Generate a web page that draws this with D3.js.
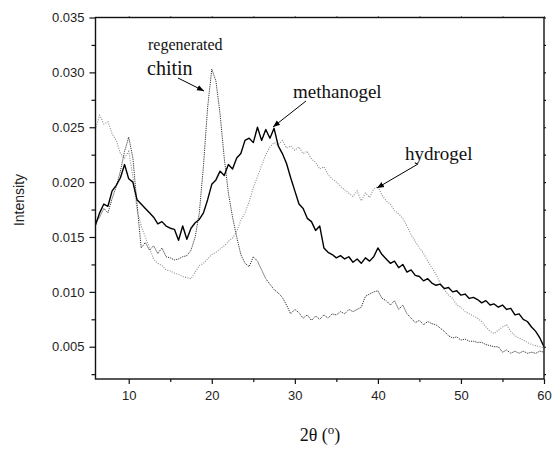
<!DOCTYPE html>
<html>
<head>
<meta charset="utf-8">
<script src="https://cdn.jsdelivr.net/npm/d3@7"></script>
<style>
  body { margin: 0; background: #fff; }
  .tick text { font-family: "Liberation Sans", Arial, sans-serif; font-size: 13px; fill: #222; }
  .ann { font-family: "Liberation Serif", "Times New Roman", serif; fill: #111; }
</style>
</head>
<body>
<div id="chart"></div>
<script>
// diffraction angle, degrees
const twoTheta = [
  6.0, 6.5, 7.0, 7.5, 8.0, 8.5, 9.0, 9.5, 10.0, 10.5, 11.0, 11.5, 12.0, 12.5, 13.0, 13.5, 14.0, 14.5,
  15.0, 15.5, 16.0, 16.5, 17.0, 17.5, 18.0, 18.5, 19.0, 19.5, 20.0, 20.5, 21.0, 21.5, 22.0, 22.5, 23.0, 23.5,
  24.0, 24.5, 25.0, 25.5, 26.0, 26.5, 27.0, 27.5, 28.0, 28.5, 29.0, 29.5, 30.0, 30.5, 31.0, 31.5, 32.0, 32.5,
  33.0, 33.5, 34.0, 34.5, 35.0, 35.5, 36.0, 36.5, 37.0, 37.5, 38.0, 38.5, 39.0, 39.5, 40.0, 40.5, 41.0, 41.5,
  42.0, 42.5, 43.0, 43.5, 44.0, 44.5, 45.0, 45.5, 46.0, 46.5, 47.0, 47.5, 48.0, 48.5, 49.0, 49.5, 50.0, 50.5,
  51.0, 51.5, 52.0, 52.5, 53.0, 53.5, 54.0, 54.5, 55.0, 55.5, 56.0, 56.5, 57.0, 57.5, 58.0, 58.5, 59.0, 59.5, 60.0
];

const methanogel = [
  0.0161, 0.0172, 0.0180, 0.0178, 0.0192, 0.0197, 0.0204, 0.0216, 0.0203, 0.0200, 0.0184, 0.0180, 0.0176, 0.0172, 0.0168, 0.0162, 0.0164, 0.0160,
  0.0158, 0.0157, 0.0147, 0.0160, 0.0148, 0.0158, 0.0163, 0.0166, 0.0172, 0.0184, 0.0198, 0.0202, 0.0210, 0.0206, 0.0216, 0.0212, 0.0222, 0.0226,
  0.0238, 0.0240, 0.0236, 0.0250, 0.0238, 0.0248, 0.0240, 0.0249, 0.0233, 0.0226, 0.0217, 0.0204, 0.0192, 0.0180, 0.0176, 0.0167, 0.0164, 0.0156,
  0.0160, 0.0140, 0.0136, 0.0134, 0.0131, 0.0133, 0.0130, 0.0132, 0.0127, 0.0130, 0.0126, 0.0131, 0.0128, 0.0132, 0.0140, 0.0134, 0.0130, 0.0126,
  0.0128, 0.0122, 0.0125, 0.0118, 0.0120, 0.0115, 0.0114, 0.0110, 0.0112, 0.0108, 0.0106, 0.0107, 0.0103, 0.0104, 0.0100, 0.0101, 0.0097, 0.0098,
  0.0094, 0.0095, 0.0093, 0.0090, 0.0092, 0.0088, 0.0089, 0.0086, 0.0088, 0.0084, 0.0085, 0.0079, 0.0080, 0.0075, 0.0073, 0.0068, 0.0064, 0.0058, 0.0050
];

const chitin = [
  0.0163, 0.0168, 0.0176, 0.0172, 0.0185, 0.0196, 0.0210, 0.0228, 0.0241, 0.0222, 0.0180, 0.0140, 0.0145, 0.0138, 0.0142, 0.0135, 0.0140, 0.0132,
  0.0131, 0.0129, 0.0130, 0.0132, 0.0133, 0.0138, 0.0150, 0.0172, 0.0215, 0.0268, 0.0303, 0.0292, 0.0262, 0.0222, 0.0190, 0.0168, 0.0150, 0.0134,
  0.0126, 0.0123, 0.0132, 0.0128, 0.0120, 0.0112, 0.0107, 0.0102, 0.0099, 0.0095, 0.0088, 0.0080, 0.0084, 0.0081, 0.0076, 0.0079, 0.0074, 0.0078,
  0.0075, 0.0079, 0.0076, 0.0080, 0.0079, 0.0082, 0.0080, 0.0084, 0.0082, 0.0084, 0.0086, 0.0096, 0.0098, 0.0100, 0.0101, 0.0094, 0.0092, 0.0088,
  0.0092, 0.0084, 0.0088, 0.0080, 0.0076, 0.0072, 0.0074, 0.0070, 0.0073, 0.0071, 0.0070, 0.0067, 0.0064, 0.0060, 0.0058, 0.0059, 0.0056, 0.0057,
  0.0055, 0.0055, 0.0054, 0.0054, 0.0052, 0.0051, 0.0050, 0.0050, 0.0045, 0.0047, 0.0044, 0.0046, 0.0044, 0.0046, 0.0044, 0.0045, 0.0044, 0.0046, 0.0045
];

const hydrogel = [
  0.0248, 0.0261, 0.0253, 0.0255, 0.0244, 0.0238, 0.0226, 0.0222, 0.0228, 0.0205, 0.0175, 0.0160, 0.0150, 0.0140, 0.0130, 0.0126, 0.0124, 0.0120,
  0.0119, 0.0117, 0.0116, 0.0114, 0.0113, 0.0112, 0.0118, 0.0124, 0.0126, 0.0130, 0.0134, 0.0136, 0.0139, 0.0142, 0.0146, 0.0149, 0.0155, 0.0165,
  0.0172, 0.0182, 0.0195, 0.0205, 0.0215, 0.0225, 0.0232, 0.0236, 0.0234, 0.0238, 0.0231, 0.0233, 0.0229, 0.0232, 0.0226, 0.0228, 0.0221, 0.0218,
  0.0212, 0.0214, 0.0207, 0.0203, 0.0200, 0.0196, 0.0193, 0.0190, 0.0187, 0.0192, 0.0183, 0.0190, 0.0186, 0.0194, 0.0196, 0.0188, 0.0183, 0.0180,
  0.0174, 0.0171, 0.0167, 0.0160, 0.0152, 0.0146, 0.0140, 0.0135, 0.0128, 0.0122, 0.0116, 0.0108, 0.0102, 0.0097, 0.0094, 0.0088, 0.0086, 0.0082,
  0.0080, 0.0078, 0.0076, 0.0073, 0.0068, 0.0064, 0.0062, 0.0065, 0.0068, 0.0070, 0.0064, 0.0060, 0.0058, 0.0056, 0.0054, 0.0052, 0.0051, 0.0050, 0.0049
];

const xTicks = [10, 20, 30, 40, 50, 60];
const xMinorTicks = [15, 25, 35, 45, 55];
const yTicks = [0.005, 0.010, 0.015, 0.020, 0.025, 0.030, 0.035];
const yMinorTicks = [0.0025, 0.0075, 0.0125, 0.0175, 0.0225, 0.0275, 0.0325];

const width = 553, height = 450;
const plot = { left: 95.5, right: 544, top: 17.5, bottom: 379 };

const svg = d3.select("#chart").append("svg")
  .attr("width", width)
  .attr("height", height);

const x = d3.scaleLinear().domain([6, 60]).range([plot.left, plot.right]);
const y = d3.scaleLinear().domain([0.00206, 0.035]).range([plot.bottom, plot.top]);

svg.append("clipPath").attr("id", "clip")
  .append("rect")
  .attr("x", plot.left).attr("y", plot.top)
  .attr("width", plot.right - plot.left).attr("height", plot.bottom - plot.top);

const lineGen = d3.line()
  .x((d, i) => x(twoTheta[i]))
  .y(d => y(d));

const curves = svg.append("g").attr("clip-path", "url(#clip)");

// hydrogel: light grey dotted
curves.append("path")
  .datum(hydrogel)
  .attr("d", lineGen)
  .attr("fill", "none")
  .attr("stroke", "#8c8c8c")
  .attr("stroke-width", 1.1)
  .attr("stroke-dasharray", "1,1.4");

// regenerated chitin: dark dotted
curves.append("path")
  .datum(chitin)
  .attr("d", lineGen)
  .attr("fill", "none")
  .attr("stroke", "#333")
  .attr("stroke-width", 1)
  .attr("stroke-dasharray", "1.2,1");

// methanogel: solid
curves.append("path")
  .datum(methanogel)
  .attr("d", lineGen)
  .attr("fill", "none")
  .attr("stroke", "#000")
  .attr("stroke-width", 1.4)
  .attr("stroke-linejoin", "round");

// axes
svg.append("g")
  .attr("transform", `translate(0,${plot.bottom})`)
  .call(d3.axisBottom(x).tickValues(xTicks).tickSize(5).tickPadding(7).tickFormat(d3.format("d")));
svg.append("g")
  .attr("transform", `translate(0,${plot.bottom})`)
  .call(d3.axisBottom(x).tickValues(xMinorTicks).tickSize(3).tickFormat(""));

svg.append("g")
  .attr("transform", `translate(${plot.left},0)`)
  .call(d3.axisLeft(y).tickValues(yTicks).tickSize(6).tickPadding(5).tickFormat(d3.format(".3f")));
svg.append("g")
  .attr("transform", `translate(${plot.left},0)`)
  .call(d3.axisLeft(y).tickValues(yMinorTicks).tickSize(4).tickFormat(""));

// right and top, very small ticks
svg.append("g")
  .attr("transform", `translate(${plot.right},0)`)
  .call(d3.axisRight(y).tickValues(yTicks.concat(yMinorTicks)).tickSize(2).tickFormat(""));
svg.append("g")
  .attr("transform", `translate(0,${plot.top})`)
  .call(d3.axisTop(x).tickValues(xTicks.concat(xMinorTicks)).tickSize(1).tickFormat(""));

svg.selectAll(".domain").remove();
svg.selectAll(".tick line").attr("stroke", "#111").attr("stroke-width", 1.2);

// frame
svg.append("rect")
  .attr("x", plot.left).attr("y", plot.top)
  .attr("width", plot.right - plot.left).attr("height", plot.bottom - plot.top)
  .attr("fill", "none")
  .attr("stroke", "#111")
  .attr("stroke-width", 1.4);

// axis titles
svg.append("text")
  .attr("transform", `translate(24,200) rotate(-90)`)
  .attr("text-anchor", "middle")
  .style("font-family", "Liberation Sans, Arial, sans-serif")
  .style("font-size", "14px")
  .attr("fill", "#222")
  .text("Intensity");

const xTitle = svg.append("text")
  .attr("class", "ann")
  .attr("x", 320).attr("y", 441)
  .attr("text-anchor", "middle")
  .style("font-size", "18px");
xTitle.append("tspan").text("2θ (");
xTitle.append("tspan").attr("dy", -7).style("font-size", "13px").text("o");
xTitle.append("tspan").attr("dy", 7).text(")");

// annotation arrows
svg.append("defs").append("marker")
  .attr("id", "arrow")
  .attr("viewBox", "0 0 10 10")
  .attr("refX", 10).attr("refY", 5)
  .attr("markerWidth", 7).attr("markerHeight", 7)
  .attr("orient", "auto")
  .append("path")
  .attr("d", "M0,1 L10,5 L0,9 Z")
  .attr("fill", "#000");

const notes = [
  { text: "chitin", tx: 147, ty: 75, size: 20, from: [178, 78], to: [204, 91] },
  { text: "methanogel", tx: 293, ty: 98, size: 19, from: [306, 101], to: [273, 127] },
  { text: "hydrogel", tx: 405, ty: 160, size: 19, from: [418, 164], to: [377, 188] }
];

svg.append("text")
  .attr("class", "ann")
  .attr("x", 148).attr("y", 50)
  .style("font-size", "16px")
  .text("regenerated");

notes.forEach(n => {
  svg.append("text")
    .attr("class", "ann")
    .attr("x", n.tx).attr("y", n.ty)
    .style("font-size", n.size + "px")
    .text(n.text);
  svg.append("line")
    .attr("x1", n.from[0]).attr("y1", n.from[1])
    .attr("x2", n.to[0]).attr("y2", n.to[1])
    .attr("stroke", "#000")
    .attr("stroke-width", 1)
    .attr("marker-end", "url(#arrow)");
});
</script>
</body>
</html>
